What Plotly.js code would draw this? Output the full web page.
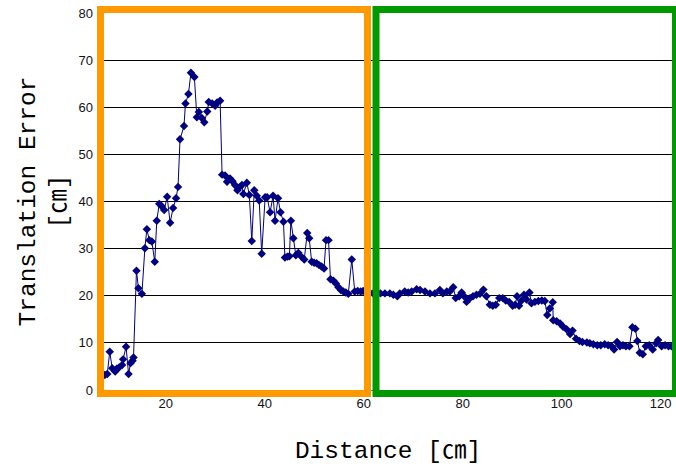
<!DOCTYPE html>
<html>
<head>
<meta charset="utf-8">
<script src="https://cdn.plot.ly/plotly-3.0.1.min.js"></script>
<style>html,body{margin:0;padding:0;background:#fff;}#chart{width:676px;height:470px;}</style>
</head>
<body>
<div id="chart"></div>
<script>
// Distance [cm] of each measurement
const distanceCm = [
  7.7,8.2,8.7,9.2,9.8,10.1,10.6,11.2,11.4,12.0,12.5,12.9,13.3,13.5,14.1,14.5,15.2,15.8,16.2,16.7,
  17.2,17.8,18.2,18.7,19.2,19.7,20.3,20.9,21.5,22.1,22.5,22.9,23.7,24.0,24.6,25.1,25.8,26.3,26.7,27.3,
  27.8,28.4,28.7,29.4,30.0,30.4,31.0,31.4,32.0,32.4,33.0,33.5,34.0,34.5,34.9,35.4,35.7,36.4,36.9,37.4,
  37.9,38.4,38.9,39.4,40.1,40.5,41.1,41.7,42.1,42.7,43.2,43.8,44.1,44.6,45.0,45.3,45.8,46.3,46.8,47.5,
  48.0,48.6,49.0,49.5,50.0,50.5,51.0,51.5,52.0,52.4,52.9,53.3,53.9,54.4,54.9,55.4,55.9,56.4,56.9,57.6,
  58.2,58.8,59.4,59.9,60.5,61.2,
  61.9,63.4,64.3,65.3,66.0,66.8,67.3,68.3,69.0,69.7,70.7,71.4,72.4,73.4,74.4,75.4,76.0,76.8,77.4,78.1,
  78.6,79.3,79.8,80.3,80.8,81.5,82.1,82.8,83.5,84.2,84.8,85.5,86.1,86.7,87.4,88.1,88.7,89.4,90.1,90.6,
  91.0,91.4,91.9,92.4,92.9,93.5,93.9,94.6,95.3,96.0,96.6,97.1,97.6,98.2,98.3,99.0,99.7,100.3,101.0,101.7,
  102.2,102.9,103.6,104.2,105.1,105.7,106.4,107.2,107.9,108.7,109.4,110.1,110.6,111.2,111.8,112.4,113.0,113.7,114.3,114.9,
  115.3,115.8,116.4,117.0,117.7,118.4,119.1,119.5,120.2,120.9,121.6,122.2
];
// Translation error [cm]
const errorCm = [
  3.2,3.4,8.1,4.6,3.9,4.5,4.8,5.3,6.5,9.2,3.4,5.7,6.2,6.9,25.3,21.6,20.4,30.1,34.1,31.8,
  31.5,27.2,35.9,39.5,39.0,38.2,41.0,35.5,38.6,40.7,43.1,53.2,56.0,60.8,62.8,67.3,66.4,57.9,59.0,57.7,
  56.8,59.1,61.1,60.8,60.3,61.0,61.4,45.7,45.5,44.2,44.9,44.3,43.5,42.4,43.0,43.5,41.6,44.0,41.4,31.6,
  42.4,41.2,40.2,28.9,40.9,40.9,37.7,41.2,35.9,40.7,37.7,35.7,28.1,28.3,28.4,35.9,32.2,28.6,29.1,28.2,
  27.7,33.3,32.2,27.2,27.0,26.9,26.5,26.2,25.8,31.8,31.8,23.5,23.2,22.6,21.8,21.2,20.9,20.7,20.4,27.7,
  20.9,21.0,20.9,21.0,20.8,20.7,
  20.5,20.5,20.5,20.5,20.2,19.9,20.5,20.9,20.7,20.9,21.4,21.2,20.9,20.5,20.5,21.2,20.5,20.9,20.9,21.8,
  19.5,19.9,20.7,19.9,18.7,19.5,19.9,20.2,20.4,21.3,19.9,18.1,17.9,18.1,19.5,19.5,19.0,18.7,17.9,18.1,
  19.9,17.9,19.0,20.2,19.2,20.7,18.4,18.7,18.9,19.0,18.9,15.9,17.3,18.6,14.8,14.6,14.1,13.4,12.9,11.9,
  12.6,10.9,10.4,10.2,10.1,9.9,9.7,9.5,9.5,9.7,9.5,9.3,8.6,10.2,9.3,9.5,9.3,9.3,13.3,13.0,
  10.4,7.9,7.6,9.3,9.5,8.6,9.9,10.6,9.3,9.5,9.3,9.3
];
const xTickVals = [20, 40, 60, 80, 100, 120];
const yTickVals = [0, 10, 20, 30, 40, 50, 60, 70, 80];
const xTitle = 'Distance [㎝]';
const yTitle = 'Translation Error<br>[㎝]';

const trace = {
  x: distanceCm,
  y: errorCm,
  type: 'scatter',
  mode: 'lines+markers',
  line: {color: '#000080', width: 1},
  marker: {symbol: 'diamond', size: 6.5, color: '#000080'},
  hoverinfo: 'x+y'
};

const titleFont = {family: 'Liberation Mono, DejaVu Sans Mono, Noto Sans CJK KR, monospace', size: 24.5, color: '#000'};
const tickFont = {family: 'Liberation Sans, Arial, sans-serif', size: 13, color: '#111'};

const layout = {
  width: 676, height: 470,
  margin: {l: 104, r: 4, t: 13, b: 80, pad: 0},
  paper_bgcolor: '#fff', plot_bgcolor: '#fff',
  showlegend: false,
  xaxis: {
    range: [7.54, 122.3],
    tickvals: xTickVals,
    ticks: '', showgrid: false, zeroline: false,
    showline: false,
    tickfont: tickFont,
    ticklabelstandoff: 4,
    title: {text: xTitle, font: titleFont, standoff: 30},
    automargin: false
  },
  yaxis: {
    range: [0, 80],
    tickvals: yTickVals,
    ticks: '',
    showgrid: true, gridcolor: '#000', gridwidth: 1,
    zeroline: true, zerolinecolor: '#777', zerolinewidth: 1,
    tickfont: tickFont,
    ticklabelstandoff: 10,
    title: {text: yTitle, font: titleFont, standoff: 4},
    automargin: false
  },
  shapes: [
    {type: 'rect', xref: 'paper', yref: 'paper', x0: -0.00616, x1: 0.4639, y0: -0.00928, y1: 1.00928,
     line: {color: '#FF9900', width: 7}, fillcolor: 'rgba(0,0,0,0)', layer: 'above'},
    {type: 'rect', xref: 'paper', yref: 'paper', x0: 0.4789, x1: 1.00616, y0: -0.00928, y1: 1.00928,
     line: {color: '#009900', width: 7}, fillcolor: 'rgba(0,0,0,0)', layer: 'above'}
  ]
};

Plotly.newPlot('chart', [trace], layout, {displayModeBar: false, staticPlot: true});
</script>
</body>
</html>
